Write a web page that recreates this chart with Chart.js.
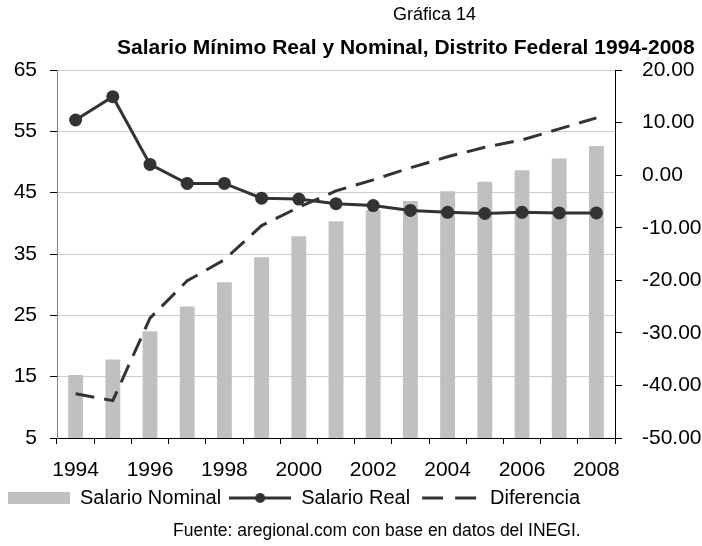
<!DOCTYPE html>
<html>
<head>
<meta charset="utf-8">
<script src="https://cdn.jsdelivr.net/npm/chart.js@4/dist/chart.umd.min.js"></script>
<style>
  body { margin: 0; background: #fff; }
  #wrap { position: relative; width: 702px; height: 546px; font-family: 'Liberation Sans', Arial, sans-serif; color: #000; }
  #c { position: absolute; left: 0; top: 0; }
  .txt { position: absolute; white-space: nowrap; line-height: 1; }
  #t1 { left: 393px; top: 5px; font-size: 18px; }
  #t2 { left: 117px; top: 36px; font-size: 21px; font-weight: bold; }
  #foot { left: 173px; top: 522px; font-size: 17.5px; }
</style>
</head>
<body>
<div id="wrap">
  <canvas id="c" width="702" height="546"></canvas>
  <div class="txt" id="t1">Gráfica 14</div>
  <div class="txt" id="t2">Salario Mínimo Real y Nominal, Distrito Federal 1994-2008</div>
  <div class="txt" id="foot">Fuente: aregional.com con base en datos del INEGI.</div>
</div>
<script>
// data
var years = ['1994','1995','1996','1997','1998','1999','2000','2001','2002','2003','2004','2005','2006','2007','2008'];
var nominal = [15.27, 17.8, 22.4, 26.45, 30.4, 34.45, 37.9, 40.35, 42.15, 43.65, 45.24, 46.8, 48.67, 50.57, 52.59];
var real = [56.85, 60.65, 49.6, 46.5, 46.5, 44.1, 43.95, 43.2, 42.9, 42.1, 41.8, 41.6, 41.8, 41.7, 41.7];
var diferencia = [-41.6, -42.9, -27.2, -20.1, -16.1, -9.6, -6.1, -3.0, -0.9, 1.4, 3.5, 5.3, 6.7, 8.8, 10.9];
var seriesNames = ['Salario Nominal', 'Salario Real', 'Diferencia'];

var FONT = "'Liberation Sans', Arial, sans-serif";
var DARK = '#333333';

// legend symbols
function makeSym(kind) {
  var c = document.createElement('canvas');
  c.width = 62; c.height = 16;
  var g = c.getContext('2d');
  if (kind == 'box') {
    g.fillStyle = '#c0c0c0';
    g.fillRect(0, 2, 62, 12);
  } else if (kind == 'line') {
    g.strokeStyle = DARK; g.lineWidth = 3;
    g.beginPath(); g.moveTo(0, 8); g.lineTo(62, 8); g.stroke();
    g.fillStyle = DARK;
    g.beginPath(); g.arc(31, 8, 5, 0, Math.PI * 2); g.fill();
  } else {
    g.strokeStyle = DARK; g.lineWidth = 3;
    g.beginPath(); g.moveTo(4, 8); g.lineTo(25, 8); g.moveTo(37, 8); g.lineTo(58, 8); g.stroke();
  }
  return c;
}
var syms = [makeSym('box'), makeSym('line'), makeSym('dash')];

var chart = new Chart(document.getElementById('c'), {
  type: 'bar',
  data: {
    labels: years,
    datasets: [
      {
        type: 'line', label: seriesNames[2], data: diferencia, yAxisID: 'y2',
        borderColor: DARK, borderWidth: 3, borderDash: [19, 10],
        pointRadius: 0, tension: 0, order: 1
      },
      {
        type: 'line', label: seriesNames[1], data: real, yAxisID: 'y',
        borderColor: DARK, borderWidth: 3, backgroundColor: DARK,
        pointRadius: 6.5, pointBackgroundColor: DARK, pointBorderWidth: 0,
        tension: 0, order: 2
      },
      {
        type: 'bar', label: seriesNames[0], data: nominal, yAxisID: 'y',
        backgroundColor: '#c0c0c0', barPercentage: 0.4, categoryPercentage: 1.0, order: 3
      }
    ]
  },
  options: {
    responsive: false,
    animation: false,
    devicePixelRatio: 1,
    layout: { padding: { top: 70, left: 0, right: 0, bottom: 28 } },
    plugins: {
      title: { display: false },
      tooltip: { enabled: false },
      legend: {
        position: 'bottom',
        align: 'start',
        labels: {
          usePointStyle: true,
          pointStyleWidth: 62,
          padding: 8,
          color: '#000',
          font: { family: FONT, size: 20 },
          generateLabels: function (ch) {
            return [2, 1, 0].map(function (di, k) {
              return {
                text: seriesNames[k], pointStyle: syms[k], fillStyle: '#c0c0c0',
                strokeStyle: DARK, lineWidth: 0, hidden: false, datasetIndex: di, fontColor: '#000'
              };
            });
          }
        }
      }
    },
    scales: {
      x: {
        offset: true,
        afterFit: function (s) { s.height = 42; },
        grid: { offset: true, drawOnChartArea: false, drawTicks: true, tickLength: 6, color: '#000' },
        border: { color: '#000', width: 1 },
        ticks: {
          autoSkip: false, maxRotation: 0, padding: 14, color: '#000',
          font: { family: FONT, size: 21 },
          callback: function (v, i) { return i % 2 == 0 ? years[i] : ''; }
        }
      },
      y: {
        position: 'left', min: 5, max: 65,
        afterFit: function (s) { s.width = 57; },
        grid: { color: '#cccccc', tickColor: '#000', tickLength: 7 },
        border: { color: '#808080', width: 1 },
        ticks: { stepSize: 10, padding: 13, color: '#000', font: { family: FONT, size: 21 } }
      },
      y2: {
        position: 'right', min: -50, max: 20,
        afterFit: function (s) { s.width = 87; },
        grid: { drawOnChartArea: false, tickColor: '#000', tickLength: 7, color: '#000' },
        border: { color: '#000', width: 1 },
        ticks: {
          stepSize: 10, padding: 20, color: '#000', font: { family: FONT, size: 21 },
          callback: function (v) { return v.toFixed(2); }
        }
      }
    }
  }
});
</script>
</body>
</html>
